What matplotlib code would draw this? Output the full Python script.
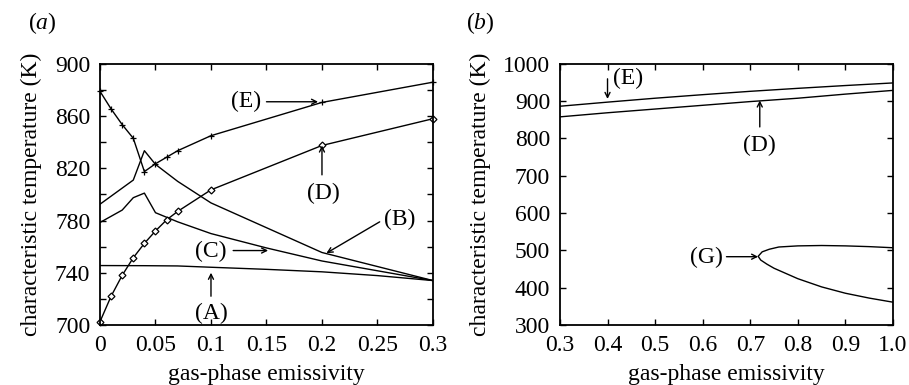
"""Characteristic temperatures vs gas-phase emissivity, panels (a) and (b)."""

import matplotlib

matplotlib.use("Agg")
import matplotlib.pyplot as plt
from matplotlib.ticker import MultipleLocator

plt.rcParams["font.family"] = ["Liberation Serif", "DejaVu Serif"]
plt.rcParams["mathtext.fontset"] = "custom"
plt.rcParams["mathtext.it"] = "Liberation Serif:italic"

# panel (a): emissivity 0 .. 0.3
eps_a = [0.0, 0.01, 0.02, 0.03, 0.04, 0.05, 0.06, 0.07, 0.1, 0.2, 0.3]
curve_E_a = [879, 865.5, 853.5, 843, 817.5, 823.5, 828.5, 833.5, 845, 870.5, 886]
curve_D_a = [702.5, 722, 738, 751.5, 762.5, 772, 780.5, 787, 803.5, 837.5, 858]

eps_B = [0.0, 0.03, 0.04, 0.05, 0.07, 0.1, 0.2, 0.3]
curve_B = [792.5, 811, 833.5, 823, 810, 793.5, 755.5, 734]

eps_C = [0.0, 0.02, 0.03, 0.04, 0.05, 0.07, 0.1, 0.15, 0.2, 0.3]
curve_C = [778.5, 788, 797.5, 801, 786, 779, 770, 759, 749, 734]

eps_A = [0.0, 0.04, 0.07, 0.1, 0.15, 0.2, 0.25, 0.3]
curve_A = [745.5, 745.4, 745.2, 744.2, 742.6, 740.7, 737.8, 734]

# panel (b): emissivity 0.3 .. 1.0
eps_b = [0.3, 0.4, 0.5, 0.6, 0.7, 0.8, 0.9, 1.0]
curve_E_b = [886.5, 897.5, 908, 917.5, 926.5, 934.5, 942, 949]
curve_D_b = [858, 869, 879, 889, 899, 908, 919, 929]

# branch (G): upper branch back to the turning point, then lower branch
eps_G = [1.0, 0.95, 0.9, 0.85, 0.8, 0.76, 0.74, 0.725, 0.7166,
         0.722, 0.735, 0.75, 0.8, 0.85, 0.9, 0.95, 1.0]
curve_G = [507, 510, 512, 513, 512, 509, 503, 496, 484,
           474, 463, 452, 424, 402, 385, 372, 361]

xt_a = [0, 0.05, 0.1, 0.15, 0.2, 0.25, 0.3]
xt_a_labels = ["0", "0.05", "0.1", "0.15", "0.2", "0.25", "0.3"]
yt_a = [700, 740, 780, 820, 860, 900]
xt_b = [0.3, 0.4, 0.5, 0.6, 0.7, 0.8, 0.9, 1.0]
xt_b_labels = ["0.3", "0.4", "0.5", "0.6", "0.7", "0.8", "0.9", "1.0"]
yt_b = [300, 400, 500, 600, 700, 800, 900, 1000]

FS = 17
arrow = dict(arrowstyle="->", color="black", lw=1, shrinkA=0, shrinkB=0,
             mutation_scale=9)


def style_axes(ax):
    ax.tick_params(direction="in", top=True, right=True, which="both",
                   length=4, width=1, labelsize=FS)
    ax.tick_params(axis="x", pad=7)
    ax.tick_params(axis="y", pad=7)
    for s in ax.spines.values():
        s.set_linewidth(1.3)
    ax.set_xlabel("gas-phase emissivity", fontsize=FS, labelpad=6)
    ax.set_ylabel("characteristic temperature (K)", fontsize=FS, labelpad=9)


fig = plt.figure(figsize=(9.09, 3.85), dpi=100)
ax1 = fig.add_axes([0.110, 0.156, 0.3663, 0.678])
ax2 = fig.add_axes([0.616, 0.156, 0.3664, 0.678])

# --- (a)
ax1.plot(eps_A, curve_A, color="black", lw=1)
ax1.plot(eps_B, curve_B, color="black", lw=1)
ax1.plot(eps_C, curve_C, color="black", lw=1)
ax1.plot(eps_a, curve_E_a, color="black", lw=1, marker="+", ms=5, mew=0.9,
         clip_on=False)
ax1.plot(eps_a, curve_D_a, color="black", lw=1, marker="D", ms=3.5, mew=0.9,
         mfc="white", clip_on=False)
ax1.set_xlim(0, 0.3)
ax1.set_ylim(700, 900)
ax1.set_xticks(xt_a, xt_a_labels)
ax1.set_yticks(yt_a)
ax1.yaxis.set_minor_locator(MultipleLocator(20))
style_axes(ax1)

ax1.annotate("(E)", xy=(0.132, 871.5), fontsize=FS, ha="center", va="center")
ax1.annotate("", xy=(0.1965, 871), xytext=(0.15, 871), arrowprops=arrow)
ax1.annotate("(D)", xy=(0.201, 801), fontsize=FS, ha="center", va="center")
ax1.annotate("", xy=(0.2, 837.5), xytext=(0.2, 815), arrowprops=arrow)
ax1.annotate("(B)", xy=(0.27, 780.5), fontsize=FS, ha="center", va="center")
ax1.annotate("", xy=(0.204, 755), xytext=(0.252, 779), arrowprops=arrow)
ax1.annotate("(C)", xy=(0.1, 756.5), fontsize=FS, ha="center", va="center")
ax1.annotate("", xy=(0.1515, 757), xytext=(0.12, 757), arrowprops=arrow)
ax1.annotate("(A)", xy=(0.1, 709), fontsize=FS, ha="center", va="center")
ax1.annotate("", xy=(0.1, 740), xytext=(0.1, 722), arrowprops=arrow)

# --- (b)
ax2.plot(eps_b, curve_E_b, color="black", lw=1)
ax2.plot(eps_b, curve_D_b, color="black", lw=1)
ax2.plot(eps_G, curve_G, color="black", lw=1)
ax2.set_xlim(0.3, 1.0)
ax2.set_ylim(300, 1000)
ax2.set_xticks(xt_b, xt_b_labels)
ax2.set_yticks(yt_b)
style_axes(ax2)

ax2.annotate("(E)", xy=(0.4435, 960), fontsize=FS, ha="center", va="center")
ax2.annotate("", xy=(0.4, 906), xytext=(0.4, 960), arrowprops=arrow)
ax2.annotate("(D)", xy=(0.72, 780), fontsize=FS, ha="center", va="center")
ax2.annotate("", xy=(0.72, 902), xytext=(0.72, 831), arrowprops=arrow)
ax2.annotate("(G)", xy=(0.607, 482), fontsize=FS, ha="center", va="center")
ax2.annotate("", xy=(0.7166, 483), xytext=(0.65, 483), arrowprops=arrow)

fig.text(0.031, 0.94, r"($\mathit{a}$)", fontsize=FS, ha="left", va="center")
fig.text(0.513, 0.94, r"($\mathit{b}$)", fontsize=FS, ha="left", va="center")

fig.savefig("out.png", dpi=100)
